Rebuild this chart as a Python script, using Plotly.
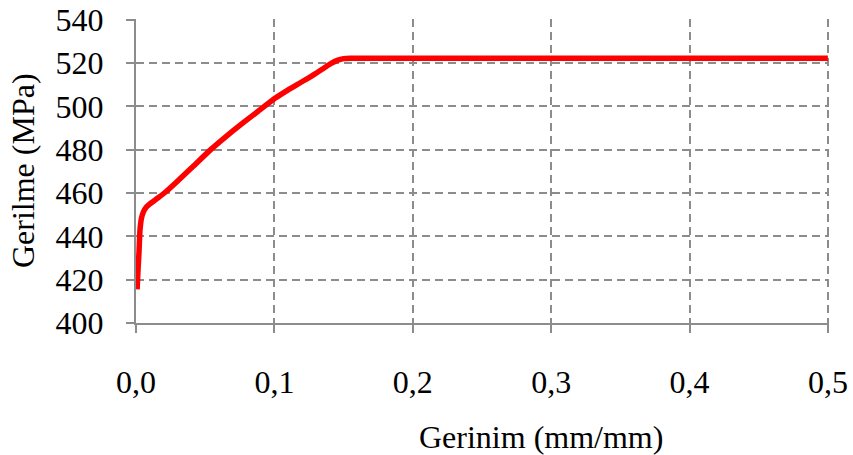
import plotly.graph_objects as go

# Data
strain = [0.0008, 0.0015, 0.0022, 0.0029, 0.0040, 0.0053, 0.0075, 0.010, 0.016, 0.022,
          0.028, 0.040, 0.054, 0.065, 0.075, 0.088, 0.1007, 0.110, 0.119, 0.128,
          0.1357, 0.1410, 0.1454, 0.150, 0.155, 0.5]
stress = [415.5, 425.0, 433.0, 443.0, 448.5, 451.2, 453.5, 455.0, 457.8, 460.8,
          464.3, 471.5, 480.0, 486.0, 491.2, 497.6, 503.8, 507.6, 511.0, 514.4,
          517.6, 519.8, 521.2, 522.0, 522.2, 522.2]

x_ticks = [0.0, 0.1, 0.2, 0.3, 0.4, 0.5]
x_tick_labels = ["0,0", "0,1", "0,2", "0,3", "0,4", "0,5"]
y_ticks = [400, 420, 440, 460, 480, 500, 520, 540]

x_title = "Gerinim (mm/mm)"
y_title = "Gerilme (MPa)"

FONT = "Liberation Serif, Times New Roman, serif"
GRID = "#8c8c8c"

fig = go.Figure()
fig.add_trace(go.Scatter(
    x=strain, y=stress, mode="lines",
    line=dict(color="#ff0000", width=5.5, shape="spline", smoothing=0.5),
    showlegend=False, hoverinfo="skip",
))

fig.update_layout(
    width=853, height=455,
    margin=dict(l=136, r=24, t=19, b=132),
    paper_bgcolor="white", plot_bgcolor="white",
    font=dict(family=FONT, size=32, color="black"),
    showlegend=False,
)
fig.update_xaxes(
    range=[0, 0.5008], tickvals=x_ticks, ticktext=x_tick_labels,
    showgrid=True, gridcolor=GRID, gridwidth=2, griddash="8px,5px",
    showline=True, linecolor=GRID, linewidth=2,
    ticks="outside", ticklen=8, tickcolor=GRID, tickwidth=2,
    ticklabelstandoff=22, zeroline=False, automargin=False,
    tickfont=dict(family=FONT, size=32, color="black"),
)
fig.update_yaxes(
    range=[400, 540.3], tickvals=y_ticks,
    showgrid=True, gridcolor=GRID, gridwidth=2, griddash="8px,5px",
    showline=True, linecolor=GRID, linewidth=2,
    ticks="outside", ticklen=8, tickcolor=GRID, tickwidth=2,
    ticklabelstandoff=16, zeroline=False, automargin=False,
    tickfont=dict(family=FONT, size=32, color="black"),
)

fig.add_annotation(
    text=x_title, xref="paper", yref="paper", x=0.584, y=-0.375,
    showarrow=False, xanchor="center", yanchor="middle",
    font=dict(family=FONT, size=32, color="black"),
)
fig.add_annotation(
    text=y_title, xref="paper", yref="paper", x=-0.163, y=0.5,
    showarrow=False, xanchor="center", yanchor="middle", textangle=-90,
    font=dict(family=FONT, size=32, color="black"),
)

fig.write_html("out.html")
